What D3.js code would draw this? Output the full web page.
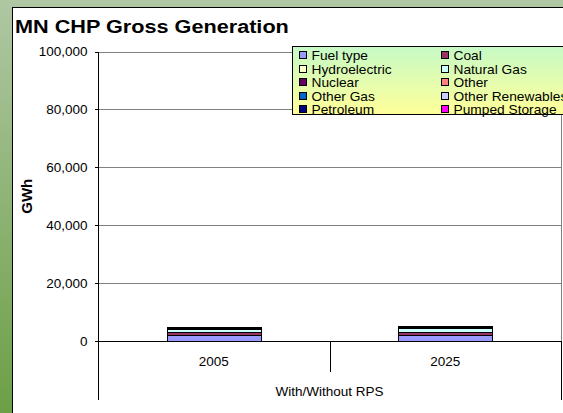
<!DOCTYPE html>
<html><head><meta charset="utf-8">
<script src="https://cdn.jsdelivr.net/npm/d3@7"></script>
<style>
body{margin:0;overflow:hidden;background:#fff}
text{font-family:"Liberation Sans",Arial,sans-serif;fill:#000}
</style>
</head><body>
<svg id="c" width="563" height="413"></svg>
<script>
// ---- data ----
const chartTitle = "MN CHP Gross Generation";
const yAxisTitle = "GWh";
const xAxisTitle = "With/Without RPS";
const categories = ["2005", "2025"];
const seriesNames = ["Fuel type","Coal","Hydroelectric","Natural Gas","Nuclear","Other","Other Gas","Other Renewables","Petroleum","Pumped Storage"];
const seriesColors = ["#9999FF","#993366","#FFFFCC","#CCFFFF","#660066","#FF8080","#0066CC","#CCCCFF","#000080","#FF00FF"];
const values2005 = [1950, 1000, 300, 1050, 0, 150, 100, 150, 100, 0];
const values2025 = [1950, 1000, 300, 1150, 0, 100, 100, 200, 250, 0];
const yTicks = [0, 20000, 40000, 60000, 80000, 100000];

// ---- build table ----
const table = categories.map((c, i) => {
  const row = {category: c};
  const vals = i === 0 ? values2005 : values2025;
  seriesNames.forEach((s, j) => row[s] = vals[j]);
  return row;
});

const svg = d3.select("#c");
const W = 563, H = 413;

// background gradient
const defs = svg.append("defs");
const bg = defs.append("linearGradient").attr("id","bg").attr("x1",0).attr("y1",0).attr("x2",0).attr("y2",1);
bg.append("stop").attr("offset","0%").attr("stop-color","#afc7a3");
bg.append("stop").attr("offset","100%").attr("stop-color","#6c9f46");
const lg = defs.append("linearGradient").attr("id","lg").attr("x1",0).attr("y1",0).attr("x2",0).attr("y2",1);
lg.append("stop").attr("offset","0%").attr("stop-color","#c6fac6");
lg.append("stop").attr("offset","100%").attr("stop-color","#ffff99");

svg.append("rect").attr("width",W).attr("height",H).attr("fill","url(#bg)");
svg.append("rect").attr("x",12.5).attr("y",7.5).attr("width",700).attr("height",600)
  .attr("fill","#fff").attr("stroke","#000").attr("stroke-width",1);

// title
svg.append("text").attr("transform","translate(15,33) scale(1.14,1)")
  .style("font-size","19px").style("font-weight","bold").text(chartTitle);

// scales
const plot = {l: 98, r: 561, t: 51.5, b: 341};
const x = d3.scaleBand().domain(categories).range([plot.l, plot.r]).padding(0);
const y = d3.scaleLinear().domain([0, 100000]).range([plot.b, plot.t]);

const g = svg.append("g").attr("shape-rendering","crispEdges");

// gridlines
g.selectAll("line.grid").data(yTicks.filter(d => d > 0)).join("line")
  .attr("x1", plot.l).attr("x2", plot.r)
  .attr("y1", d => Math.round(y(d)) + 0.5).attr("y2", d => Math.round(y(d)) + 0.5)
  .attr("stroke", "#808080");
// right border of plot
g.append("line").attr("x1", plot.r + 0.5).attr("x2", plot.r + 0.5)
  .attr("y1", Math.round(y(100000)) + 0.5).attr("y2", plot.b).attr("stroke", "#808080");

// stacked bars
const stack = d3.stack().keys(seriesNames)(table);
const barW = x.bandwidth() * 0.405;
g.selectAll("g.series").data(stack).join("g")
  .attr("fill", (d, i) => seriesColors[i])
  .selectAll("rect").data(d => d.filter(p => p[1] - p[0] > 0)).join("rect")
  .attr("x", d => Math.round(x(d.data.category) + (x.bandwidth() - barW) / 2) + 0.5)
  .attr("width", Math.round(barW))
  .attr("y", d => Math.round(y(d[1])) + 0.5)
  .attr("height", d => Math.max(0, Math.round(y(d[0])) - Math.round(y(d[1]))))
  .attr("stroke", "#000").attr("stroke-width", 1);

// y axis
const yAxis = d3.axisLeft(y).tickValues(yTicks).tickFormat(d3.format(",")).tickSize(4).tickPadding(7);
const ya = svg.append("g").attr("transform", `translate(${plot.l + 0.5},0)`).call(yAxis);
ya.select(".domain").remove();
ya.selectAll(".tick line").attr("stroke", "#000").attr("shape-rendering","crispEdges");
ya.selectAll(".tick text").style("font-size", "13.5px").style("font-family", "Liberation Sans, Arial, sans-serif").attr("fill","#000");
g.append("line").attr("x1", plot.l + 0.5).attr("x2", plot.l + 0.5)
  .attr("y1", Math.round(y(100000)) + 0.5).attr("y2", 400).attr("stroke", "#000");

// x axis (multi-level)
const x0 = Math.round(y(0)) + 0.5;
g.append("line").attr("x1", plot.l).attr("x2", plot.r + 1).attr("y1", x0).attr("y2", x0).attr("stroke", "#000");
g.append("line").attr("x1", plot.r + 0.5).attr("x2", plot.r + 0.5).attr("y1", x0).attr("y2", 400).attr("stroke", "#000");
const mid = x(categories[1]);
g.append("line").attr("x1", Math.round(mid) + 0.5).attr("x2", Math.round(mid) + 0.5).attr("y1", x0).attr("y2", 372).attr("stroke", "#000");
svg.selectAll("text.cat").data(categories).join("text")
  .attr("x", d => x(d) + x.bandwidth() / 2).attr("y", 366)
  .attr("text-anchor", "middle").style("font-size", "13.5px").text(d => d);
svg.append("text").attr("x", (plot.l + plot.r) / 2).attr("y", 396)
  .attr("text-anchor", "middle").style("font-size", "13.5px").text(xAxisTitle);

// y axis title
svg.append("text").attr("transform", `translate(32,${(plot.t + plot.b) / 2}) rotate(-90)`)
  .attr("text-anchor", "middle").style("font-size", "15px").style("font-weight", "bold").text(yAxisTitle);

// legend
const leg = svg.append("g");
leg.append("rect").attr("x", 292.5).attr("y", 46.5).attr("width", 300).attr("height", 68)
  .attr("fill", "url(#lg)").attr("stroke", "#000");
const colX = [299.5, 441.5];
const items = leg.selectAll("g.item").data(seriesNames).join("g")
  .attr("transform", (d, i) => `translate(${colX[i % 2]},${Math.round(55.3 + Math.floor(i / 2) * 13.5)})`);
items.append("rect").attr("x", 0).attr("y", -3.5).attr("width", 7).attr("height", 7)
  .attr("fill", (d, i) => seriesColors[i]).attr("stroke", "#000").attr("shape-rendering","crispEdges");
items.append("text").attr("transform", "translate(12,4.5) scale(1.1,1)").style("font-size", "12.5px").text(d => d);
</script>
</body></html>
